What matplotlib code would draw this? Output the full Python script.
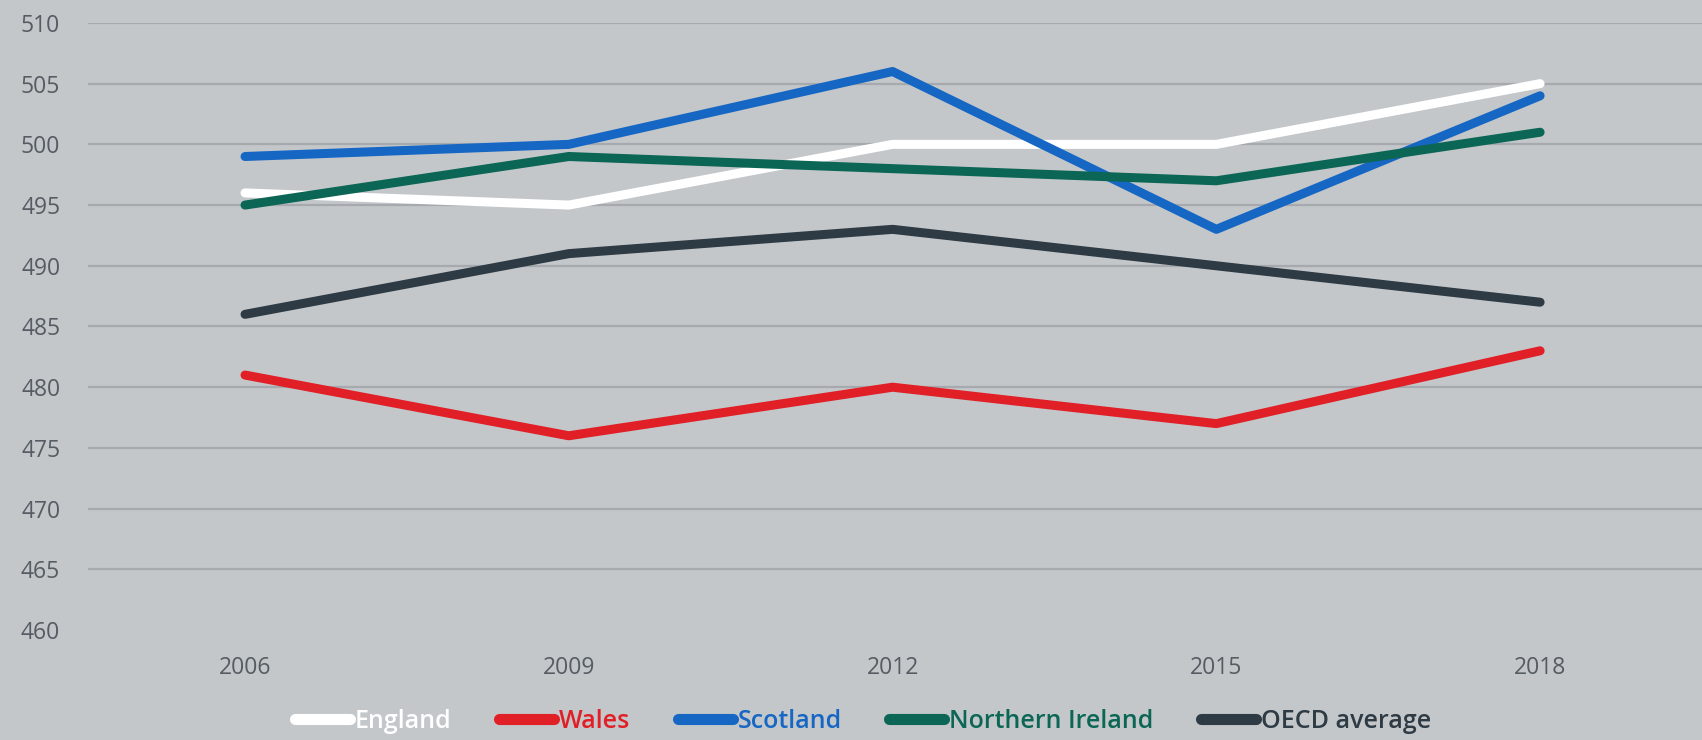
import matplotlib.pyplot as plt

# PISA-style scores by nation
years = ['2006', '2009', '2012', '2015', '2018']
england = [496, 495, 500, 500, 505]
wales = [481, 476, 480, 477, 483]
scotland = [499, 500, 506, 493, 504]
northern_ireland = [495, 499, 498, 497, 501]
oecd_average = [486, 491, 493, 490, 487]

series = [
    ('England', england, '#ffffff'),
    ('Wales', wales, '#e01f26'),
    ('Scotland', scotland, '#1666c4'),
    ('Northern Ireland', northern_ireland, '#0b6655'),
    ('OECD average', oecd_average, '#2e3a44'),
]

bg = '#c3c7ca'
plt.rcParams['font.family'] = ['Open Sans', 'DejaVu Sans']

fig = plt.figure(figsize=(17.02, 7.4), dpi=100)
fig.patch.set_facecolor(bg)
ax = fig.add_axes([0.0517, 0.1486, 0.9483, 0.8204])
ax.set_facecolor(bg)

x = list(range(len(years)))
for name, vals, col in series:
    ax.plot(x, vals, color=col, linewidth=6.5, solid_capstyle='round',
            label=name)

ax.set_xlim(-0.485, 4.5)
ax.set_ylim(460, 510)
ax.set_xticks(x)
ax.set_xticklabels(years)
ax.set_yticks(range(460, 511, 5))

ax.grid(axis='y', color='#a6aaae', linewidth=1.6, zorder=0)
ax.set_axisbelow(True)
ax.yaxis.get_gridlines()[0].set_visible(False)

for s in ax.spines.values():
    s.set_visible(False)
ax.tick_params(axis='both', length=0, labelsize=16.5, labelcolor='#555c63')
ax.tick_params(axis='y', pad=20)
ax.tick_params(axis='x', pad=19)

leg = fig.legend(loc='center', bbox_to_anchor=(0.507, 0.025), ncol=5,
                 frameon=False, handlelength=2.2, handletextpad=0.2,
                 columnspacing=1.9, prop={'size': 18, 'weight': 'semibold'},
                 labelcolor='linecolor')
for h in leg.legend_handles:
    h.set_linewidth(8)

plt.savefig('out.png', dpi=100, facecolor=bg)
